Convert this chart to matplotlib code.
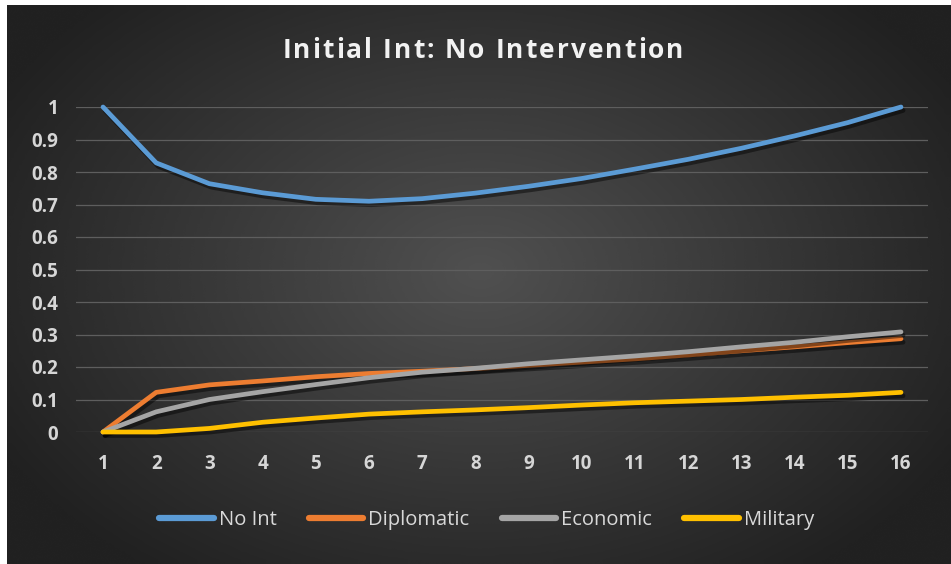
#!/usr/bin/env python3
"""
Initial Int: No Intervention - line chart on a dark Excel-style panel
"""

import numpy as np
import matplotlib
matplotlib.use('Agg')
import matplotlib.pyplot as plt
import matplotlib.patheffects as pe
from matplotlib.font_manager import FontProperties
from matplotlib.textpath import TextToPath

# Data
steps = list(range(1, 17))
no_int = [1.0, 0.828, 0.764, 0.736, 0.716, 0.710, 0.718, 0.735, 0.756, 0.780,
          0.809, 0.839, 0.873, 0.911, 0.952, 1.0]
diplomatic = [0.0, 0.122, 0.145, 0.157, 0.170, 0.180, 0.187, 0.195, 0.205, 0.215,
              0.225, 0.237, 0.250, 0.262, 0.275, 0.287]
economic = [0.0, 0.062, 0.100, 0.124, 0.146, 0.167, 0.184, 0.196, 0.210, 0.222,
            0.234, 0.247, 0.262, 0.276, 0.293, 0.308]
military = [0.0, 0.0, 0.011, 0.030, 0.043, 0.055, 0.062, 0.068, 0.075, 0.083,
            0.090, 0.095, 0.100, 0.107, 0.113, 0.122]

series = [
    ('No Int', no_int, '#5B9BD5'),
    ('Diplomatic', diplomatic, '#ED7D31'),
    ('Economic', economic, '#A5A5A5'),
    ('Military', military, '#FFC000'),
]
yticks = [0, 0.1, 0.2, 0.3, 0.4, 0.5, 0.6, 0.7, 0.8, 0.9, 1]
ytick_labels = ['0', '0.1', '0.2', '0.3', '0.4', '0.5', '0.6', '0.7', '0.8', '0.9', '1']
title = 'Initial Int: No Intervention'

W, H = 951, 564
fig = plt.figure(figsize=(W / 100, H / 100), dpi=100, facecolor='white')

# Dark panel with a soft radial gradient
bg = fig.add_axes([7 / W, 0, 1 - 7 / W, 1 - 5 / H])
yy, xx = np.mgrid[0:200, 0:340]
r = np.sqrt(((xx - 170) / 170) ** 2 + ((yy - 95) / 115) ** 2)
grad = np.clip(0.315 - 0.16 * r, 0.13, 0.315)
bg.imshow(grad, cmap='gray', vmin=0, vmax=1, aspect='auto',
          extent=[0, 1, 0, 1], interpolation='bicubic')
bg.set_xlim(0, 1)
bg.set_ylim(0, 1)
bg.axis('off')

ax = fig.add_axes([76.4 / W, (H - 432) / H, (927.6 - 76.4) / W, (432 - 107) / H])
ax.patch.set_alpha(0)

shadow = [pe.SimpleLineShadow(offset=(1.5, -2.5), shadow_color='black', alpha=0.45),
          pe.Normal()]
for name, vals, color in series:
    ax.plot(steps, vals, color=color, linewidth=3.4, label=name,
            solid_capstyle='round', clip_on=False, zorder=3, path_effects=shadow)

ax.set_xlim(0.5, 16.5)
ax.set_ylim(0, 1)
ax.set_yticks(yticks)
ax.set_yticklabels(ytick_labels)
ax.set_xticks(steps)
ax.grid(axis='y', color='#5e5e5e', linewidth=0.9)
ax.set_axisbelow(True)
for s in ax.spines.values():
    s.set_visible(False)
ax.tick_params(length=0, colors='#d6d6d6', labelsize=13.5)
ax.tick_params(axis='y', pad=13)
ax.tick_params(axis='x', pad=16)
for lbl in ax.get_xticklabels() + ax.get_yticklabels():
    lbl.set_fontfamily('Open Sans')
    lbl.set_fontweight('bold')

# Title with extra letter spacing, like the Excel chart title
tprop = FontProperties(family='Open Sans', weight='bold', size=19)
t2p = TextToPath()
track = 2.0  # px between letters
px_per_pt = 100 / 72


def text_width(s):
    w, _, _ = t2p.get_text_width_height_descent(s, tprop, ismath=False)
    return w * px_per_pt


lefts = []
for i, ch in enumerate(title):
    if ch == ' ':
        continue
    left = text_width(title[:i + 1]) - text_width(ch) + i * track
    lefts.append((left, ch))
total = text_width(title) + (len(title) - 1) * track
x0 = 483 - total / 2
for left, ch in lefts:
    fig.text((x0 + left) / W, 1 - 50 / H, ch, color='#f2f2f2',
             fontproperties=tprop, ha='left', va='center')

leg = ax.legend(loc='center', bbox_to_anchor=(0.482, -0.27), ncol=4, frameon=False,
                handlelength=2.7, handletextpad=0.25, columnspacing=1.6,
                prop={'family': 'Open Sans', 'size': 14.5})
for text in leg.get_texts():
    text.set_color('#d9d9d9')
for line in leg.get_lines():
    line.set_linewidth(4.5)
    line.set_path_effects([])

fig.savefig('out.png', dpi=100, facecolor='white')
